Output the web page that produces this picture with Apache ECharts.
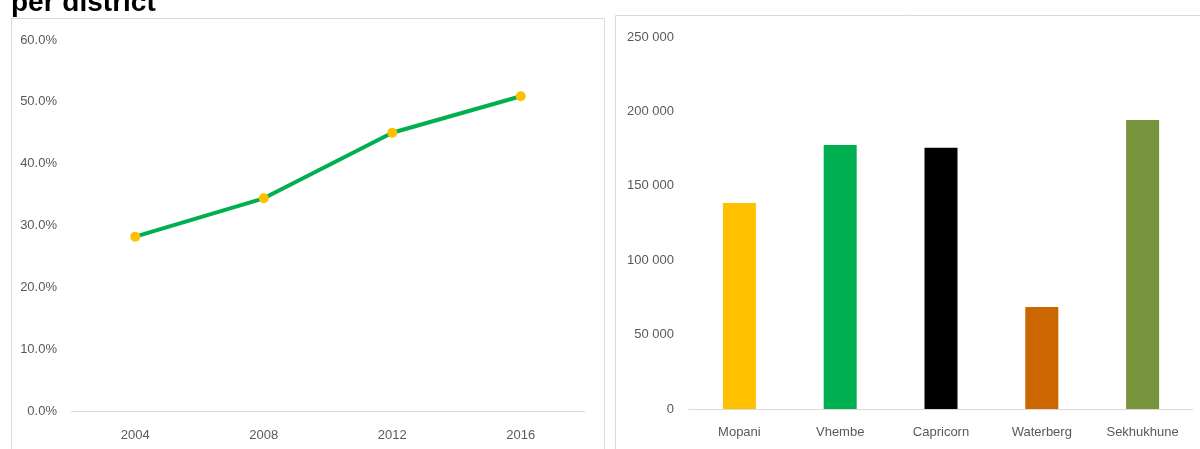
<!DOCTYPE html>
<html>
<head>
<meta charset="utf-8">
<script src="https://cdn.jsdelivr.net/npm/echarts@6/dist/echarts.min.js"></script>
<style>
  html, body { margin: 0; padding: 0; background: #fff; }
  #chart { width: 1200px; height: 449px; }
</style>
</head>
<body>
<div id="chart"></div>
<script>
// Share over time (left panel)
const years = ['2004', '2008', '2012', '2016'];
const shareValues = [0.282, 0.344, 0.450, 0.509];
const shareTicks = [0, 0.1, 0.2, 0.3, 0.4, 0.5, 0.6];

// Count per district (right panel)
const districts = ['Mopani', 'Vhembe', 'Capricorn', 'Waterberg', 'Sekhukhune'];
const districtValues = [138400, 177400, 175600, 68500, 194200];
const districtColors = ['#FFC000', '#00B050', '#000000', '#CC6600', '#77933C'];
const countTicks = [0, 50000, 100000, 150000, 200000, 250000];

const labelFont = '"Liberation Sans Narrow", "Liberation Sans", sans-serif';
const labelColor = '#595959';

function spaced(n) {
  return String(n).replace(/\B(?=(\d{3})+(?!\d))/g, ' ');
}

const chart = echarts.init(document.getElementById('chart'), null, { renderer: 'canvas' });

chart.setOption({
  animation: false,
  backgroundColor: '#fff',
  graphic: [
    { type: 'rect', shape: { x: 11.5, y: 18.5, width: 593, height: 460 },
      style: { fill: 'none', stroke: '#D9D9D9', lineWidth: 1 }, z: -1 },
    { type: 'rect', shape: { x: 615.5, y: 15.5, width: 620, height: 460 },
      style: { fill: 'none', stroke: '#D9D9D9', lineWidth: 1 }, z: -1 },
    { type: 'text', left: 11, top: -11,
      style: { text: 'per district', font: 'bold 28px "Liberation Sans", Arial, sans-serif', fill: '#000' } }
  ],
  grid: [
    { left: 71, right: 615, top: 40, bottom: 38 },
    { left: 689, right: 7, top: 37, bottom: 40 }
  ],
  xAxis: [
    {
      gridIndex: 0, type: 'category', data: years, boundaryGap: true,
      axisLine: { lineStyle: { color: '#D9D9D9', width: 1 } },
      axisTick: { show: false },
      axisLabel: { color: labelColor, fontSize: 13, fontFamily: labelFont, margin: 18 }
    },
    {
      gridIndex: 1, type: 'category', data: districts, boundaryGap: true,
      axisLine: { lineStyle: { color: '#D9D9D9', width: 1 } },
      axisTick: { show: false },
      axisLabel: { color: labelColor, fontSize: 13, fontFamily: labelFont, margin: 17 }
    }
  ],
  yAxis: [
    {
      gridIndex: 0, type: 'value',
      min: shareTicks[0], max: shareTicks[shareTicks.length - 1], interval: 0.1,
      splitLine: { show: false },
      axisLine: { show: false }, axisTick: { show: false },
      axisLabel: { color: labelColor, fontSize: 13, fontFamily: labelFont, margin: 14,
        formatter: v => (v * 100).toFixed(1) + '%' }
    },
    {
      gridIndex: 1, type: 'value',
      min: countTicks[0], max: countTicks[countTicks.length - 1], interval: 50000,
      splitLine: { show: false },
      axisLine: { show: false }, axisTick: { show: false },
      axisLabel: { color: labelColor, fontSize: 13, fontFamily: labelFont, margin: 15,
        formatter: v => spaced(v) }
    }
  ],
  series: [
    {
      type: 'line', xAxisIndex: 0, yAxisIndex: 0, data: shareValues,
      lineStyle: { color: '#00B050', width: 4 },
      symbol: 'circle', symbolSize: 10,
      itemStyle: { color: '#FFC000' }
    },
    {
      type: 'bar', xAxisIndex: 1, yAxisIndex: 1, barWidth: 33,
      data: districtValues.map((v, i) => ({ value: v, itemStyle: { color: districtColors[i] } }))
    }
  ]
});
</script>
</body>
</html>
